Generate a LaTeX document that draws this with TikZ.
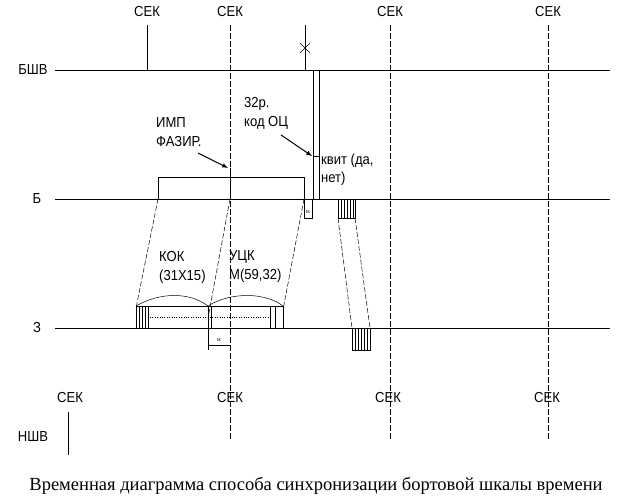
\documentclass[tikz,border=0pt]{standalone}
\usepackage{fontspec}
\setmainfont{Liberation Serif}
\newfontfamily\dft{Liberation Sans}
\begin{document}
\begin{tikzpicture}[x=1pt,y=-1pt,
  lbl/.style={font=\dft\fontsize{14.5}{16}\selectfont,inner sep=0pt,xscale=0.9},
  axis/.style={line width=0.7pt},
  sec/.style={dash pattern=on 6pt off 2pt,line width=0.5pt},
  trap/.style={dash pattern=on 5pt off 2pt,line width=0.5pt},
  th/.style={line width=0.5pt},
  arr/.style={-latex,line width=1pt}]
\useasboundingbox (0,0) rectangle (632,500);
% axes
\draw[axis] (55,70) -- (610,70);
\draw[axis] (55,199) -- (610,199);
\draw[axis] (55,328) -- (610,328);
\node[lbl] (bshv) at (33,70) {БШВ};
\node[lbl] (b) at (37,199) {Б};
\node[lbl] (z) at (37,328) {З};
\node[lbl] (nshv) at (33,437) {НШВ};
% top SEK
\node[lbl] (s1) at (147,12) {СЕК};
\node[lbl] (s2) at (230,12) {СЕК};
\node[lbl] (s3) at (390,12) {СЕК};
\node[lbl] (s4) at (548,12) {СЕК};
\draw[th] (147,25) -- (147,70);
\draw[sec] (230,25) -- (230,440);
\draw[sec] (390,25) -- (390,440);
\draw[sec] (548,25) -- (548,440);
% bottom SEK
\node[lbl] (b1) at (70,398) {СЕК};
\node[lbl] (b2) at (230,398) {СЕК};
\node[lbl] (b3) at (388,398) {СЕК};
\node[lbl] (b4) at (547,398) {СЕК};
\draw[th] (68,412) -- (68,455);
% X mark
\draw[th] (305,25) -- (305,70);
\draw[th] (300,43) -- (310,53) (300,53) -- (310,43);
% double line kvit
\draw[th] (313,70) -- (313,199);
\draw[th] (319,70) -- (319,199);
\draw[th] (313,156) -- (319,156);
\coordinate (kv) at (312,156);
% pulse at B
\draw[th] (158,199) -- (158,177) -- (304,177) -- (304,199);
\draw[line width=0.8pt] (230,168) -- (230,199);
\coordinate (imp) at (228,168);
\draw[th] (304,199) rectangle (312,218);
\node[font=\dft\fontsize{5}{5}\selectfont,inner sep=0pt] (tk1) at (308,212) {tк};
% texts
\node[lbl,align=left,anchor=west] (impt) at (156,132) {ИМП\\[3pt]ФАЗИР.};
\node[lbl,align=left,anchor=west] (ocz) at (244,113) {32р.\\[3pt]код ОЦ};
\node[lbl,align=left,anchor=west] (kvt) at (321,170) {квит (да,\\[2pt]нет)};
\draw[arr] (198,153) -- (imp);
\draw[arr] (281,135) -- (kv);
% trapezoid lines
\draw[trap] (158,199) -- (136,308);
\draw[trap] (230,199) -- (208,318);
\draw[trap] (304,199) -- (283,310);
% hatched box at B right
\draw[th] (338,199) rectangle (355,218);
\foreach \x in {341,344,...,354} \draw[line width=0.3pt] (\x,199) -- (\x,218);
\draw[trap] (338,218) -- (352,328);
\draw[trap] (355,218) -- (370,328);
\draw[th] (352,328) rectangle (370,350);
\foreach \x in {355,358,...,369} \draw[line width=0.3pt] (\x,328) -- (\x,350);
% blocks at Z
\draw[th] (136,328) -- (136,306) -- (283,306) -- (283,328);
\draw[th] (208,306) -- (208,328);
\draw[th] (136,306) .. controls (160,292) and (190,292) .. (208,306);
\draw[th] (208,306) .. controls (230,292) and (265,292) .. (283,306);
\foreach \x in {139,142,145,148} \draw[line width=0.3pt] (\x,306) -- (\x,328);
\foreach \x in {211} \draw[line width=0.3pt] (\x,306) -- (\x,328);
\foreach \x in {270,275} \draw[line width=0.3pt] (\x,306) -- (\x,328);
\draw[dotted,line width=0.4pt] (150,317) -- (268,317);
\node[lbl,align=left,anchor=west] (kok) at (159,267) {КОК\\[3pt](31Х15)};
\node[lbl,align=left,anchor=west] (uck) at (229,267) {УЦК\\[3pt]М(59,32)};
% tk below
\draw[th] (208,328) -- (208,350);
\draw[th] (208,345) -- (230,345);
\node[font=\dft\fontsize{5}{5}\selectfont,inner sep=0pt] (tk2) at (219,340) {tк};
% caption
\node[font=\fontsize{18.5}{20}\selectfont,inner sep=0pt] (cap) at (316,486) {Временная диаграмма способа синхронизации бортовой шкалы времени};
\end{tikzpicture}
\end{document}
